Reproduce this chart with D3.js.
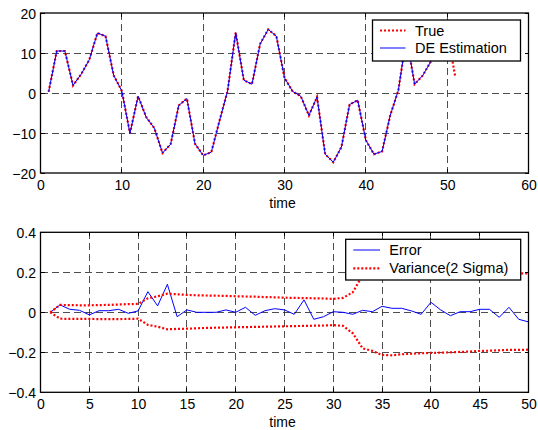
<!DOCTYPE html>
<html>
<head>
<meta charset="utf-8">
<script src="https://cdn.jsdelivr.net/npm/d3@7"></script>
<style>
  html, body { margin: 0; padding: 0; background: #fff; }
  svg { display: block; }
  text { font-family: "Liberation Sans", Arial, sans-serif; fill: #000; }
</style>
</head>
<body>
<svg id="chart" width="538" height="430"></svg>
<script>
// ---------- data ----------
const trueVals = [0.3, 10.5, 10.5, 1.9, 4.7, 8.3, 15, 14.2, 4.4, 0.5,
  -10, -0.8, -6, -8.8, -15, -12.8, -3.1, -1.4, -12.7, -15.6,
  -14.8, -7, 0.5, 15.1, 3.2, 2.2, 12.3, 15.9, 14.2, 3.8,
  0.4, -0.8, -5.6, -1, -15.3, -17.3, -13.5, -2.9, -1.8, -11.8,
  -15.3, -14.6, -5.6, 0.7, 14, 2.2, 4.4, 7.9, 13, 15.5, 4];
const deVals = [0.3, 10.5, 10.5, 1.9, 4.7, 8.3, 15, 14.2, 4.4, 0.5,
  -10.1, -0.8, -6.1, -8.8, -15, -12.8, -3.1, -1.4, -12.7, -15.6,
  -14.8, -7, 0.5, 15.1, 3.2, 2.2, 12.2, 15.9, 14.2, 3.8,
  0.4, -0.8, -5.6, -1, -15.3, -17.3, -13.5, -2.9, -1.8, -11.8,
  -15.3, -14.6, -5.6, 0.7, 14, 2.2, 4.4, 7.9, 13, 15.5];
const errorVals = [0, 0.037, 0.015, 0.01, -0.013, 0.008, 0.008, 0.015, -0.005, 0.007,
  0.103, 0.032, 0.14, -0.022, 0.012, 0, 0, 0, 0.012, 0,
  0.025, -0.015, 0.008, 0.018, 0.012, -0.01, 0.062, -0.035, -0.022, 0.003,
  0, -0.01, 0.01, 0.003, 0.03, 0.02, 0.02, 0.007, -0.01, 0.05,
  0.012, -0.017, 0.003, 0.003, 0.015, 0.015, -0.025, 0.025, -0.035, -0.048];
const varUpper = [0, 0.037, 0.036, 0.035, 0.035, 0.036, 0.037, 0.039, 0.041, 0.042,
  0.07, 0.08, 0.093, 0.09, 0.087, 0.085, 0.084, 0.083, 0.082, 0.08,
  0.079, 0.078, 0.076, 0.075, 0.073, 0.072, 0.071, 0.07, 0.069, 0.067,
  0.072, 0.1, 0.185, 0.2, 0.215, 0.217, 0.213, 0.21, 0.208, 0.206,
  0.205, 0.203, 0.201, 0.2, 0.198, 0.197, 0.196, 0.195, 0.195, 0.195];
const varLower = [0, -0.032, -0.033, -0.033, -0.033, -0.034, -0.034, -0.034, -0.033, -0.032,
  -0.063, -0.072, -0.085, -0.083, -0.082, -0.08, -0.078, -0.077, -0.076, -0.075,
  -0.074, -0.073, -0.072, -0.071, -0.07, -0.069, -0.068, -0.067, -0.066, -0.064,
  -0.068, -0.105, -0.18, -0.193, -0.213, -0.215, -0.21, -0.207, -0.205, -0.203,
  -0.202, -0.2, -0.198, -0.196, -0.193, -0.192, -0.19, -0.188, -0.188, -0.187];

const topXTicks = [0, 10, 20, 30, 40, 50, 60];
const topYTicks = [-20, -10, 0, 10, 20];
const botXTicks = [0, 5, 10, 15, 20, 25, 30, 35, 40, 45, 50];
const botYTicks = [-0.4, -0.2, 0, 0.2, 0.4];
const topLegend = ["True", "DE Estimation"];
const botLegend = ["Error", "Variance(2 Sigma)"];
const xLabel = "time";

// ---------- drawing ----------
const svg = d3.select("#chart");
const FS = 14;

function panel(cfg) {
  const g = svg.append("g");
  const x = d3.scaleLinear().domain(cfg.xDomain).range([cfg.left, cfg.right]);
  const y = d3.scaleLinear().domain(cfg.yDomain).range([cfg.bottom, cfg.top]);

  // clip
  const clipId = "clip" + cfg.id;
  svg.append("clipPath").attr("id", clipId).append("rect")
    .attr("x", cfg.left).attr("y", cfg.top)
    .attr("width", cfg.right - cfg.left).attr("height", cfg.bottom - cfg.top);

  // grid
  const grid = g.append("g").attr("stroke", "#222").attr("stroke-width", 0.8)
    .attr("stroke-dasharray", "7,4").attr("shape-rendering", "crispEdges");
  cfg.xTicks.slice(1, -1).forEach(t => {
    grid.append("line").attr("x1", x(t)).attr("x2", x(t))
      .attr("y1", cfg.top).attr("y2", cfg.bottom);
  });
  cfg.yTicks.slice(1, -1).forEach(t => {
    grid.append("line").attr("y1", y(t)).attr("y2", y(t))
      .attr("x1", cfg.left).attr("x2", cfg.right);
  });

  // series
  const plot = g.append("g").attr("clip-path", `url(#${clipId})`);
  cfg.series.forEach(s => {
    const line = d3.line().x((d, i) => x(i + 1)).y(d => y(d));
    plot.append("path").datum(s.values)
      .attr("fill", "none")
      .attr("stroke", s.color)
      .attr("stroke-width", s.width)
      .attr("stroke-dasharray", s.dash || null)
      .attr("d", line);
  });

  // axes (D3 axes for ticks and labels)
  const xAxis = d3.axisBottom(x).tickValues(cfg.xTicks).tickSize(0).tickPadding(7)
    .tickFormat(d3.format(cfg.xFmt));
  const gx = g.append("g").attr("transform", `translate(0,${cfg.bottom})`).call(xAxis);
  gx.select(".domain").remove();
  gx.selectAll("text").attr("font-size", FS).attr("font-family", '"Liberation Sans", Arial, sans-serif').attr("fill", "#000");

  const yAxis = d3.axisLeft(y).tickValues(cfg.yTicks).tickSize(0).tickPadding(4.5)
    .tickFormat(d3.format(cfg.yFmt));
  const gy = g.append("g").attr("transform", `translate(${cfg.left},0)`).call(yAxis);
  gy.select(".domain").remove();
  gy.selectAll("text").attr("font-size", FS).attr("font-family", '"Liberation Sans", Arial, sans-serif').attr("fill", "#000")
    .attr("dy", "0.36em");

  // inward tick marks
  const tk = g.append("g").attr("stroke", "#000").attr("stroke-width", 1).attr("shape-rendering", "crispEdges");
  const L = 4;
  cfg.xTicks.forEach(t => {
    tk.append("line").attr("x1", x(t)).attr("x2", x(t)).attr("y1", cfg.bottom).attr("y2", cfg.bottom - L);
    tk.append("line").attr("x1", x(t)).attr("x2", x(t)).attr("y1", cfg.top).attr("y2", cfg.top + L);
  });
  cfg.yTicks.forEach(t => {
    tk.append("line").attr("y1", y(t)).attr("y2", y(t)).attr("x1", cfg.left).attr("x2", cfg.left + L);
    tk.append("line").attr("y1", y(t)).attr("y2", y(t)).attr("x1", cfg.right).attr("x2", cfg.right - L);
  });

  // box
  g.append("rect").attr("x", cfg.left).attr("y", cfg.top)
    .attr("width", cfg.right - cfg.left).attr("height", cfg.bottom - cfg.top)
    .attr("fill", "none").attr("stroke", "#000").attr("stroke-width", 1.3);

  // x label
  g.append("text").attr("x", (cfg.left + cfg.right) / 2 - 2).attr("y", cfg.bottom + cfg.xLabelOff)
    .attr("text-anchor", "middle").attr("font-size", FS).text(xLabel);

  // legend
  const lg = cfg.legend;
  const leg = g.append("g");
  leg.append("rect").attr("x", lg.x).attr("y", lg.y).attr("width", lg.w).attr("height", lg.h)
    .attr("fill", "#fff").attr("stroke", "#000").attr("stroke-width", 1.3);
  lg.items.forEach((it, i) => {
    const cy = lg.y + lg.rows[i];
    leg.append("line").attr("x1", lg.x + lg.s0).attr("x2", lg.x + lg.s1)
      .attr("y1", cy).attr("y2", cy)
      .attr("stroke", it.color).attr("stroke-width", it.width)
      .attr("stroke-dasharray", it.dash || null);
    leg.append("text").attr("x", lg.x + lg.tx).attr("y", cy).attr("dy", "0.35em")
      .attr("font-size", 14.5).text(it.label);
  });
}

const RED = "#ff0000", BLUE = "#0000ff";

panel({
  id: "top", left: 40.5, right: 528.5, top: 13, bottom: 173,
  xDomain: [0, 60], yDomain: [-20, 20],
  xTicks: topXTicks, yTicks: topYTicks, xFmt: "d", yFmt: "d",
  xLabelOff: 35,
  series: [
    { values: trueVals, color: RED, width: 2.2, dash: "2,2" },
    { values: deVals, color: BLUE, width: 1 }
  ],
  legend: {
    x: 372.5, y: 20, w: 148, h: 41, rows: [10.5, 28], s0: 7.5, s1: 33, tx: 42.5,
    items: [
      { label: topLegend[0], color: RED, width: 2.2, dash: "2,2" },
      { label: topLegend[1], color: BLUE, width: 1 }
    ]
  }
});

panel({
  id: "bot", left: 40.5, right: 528.5, top: 232.3, bottom: 392.3,
  xDomain: [0, 50], yDomain: [-0.4, 0.4],
  xTicks: botXTicks, yTicks: botYTicks, xFmt: "d", yFmt: "",
  xLabelOff: 35,
  series: [
    { values: errorVals, color: BLUE, width: 1 },
    { values: varUpper, color: RED, width: 2.2, dash: "2,2" },
    { values: varLower, color: RED, width: 2.2, dash: "2,2" }
  ],
  legend: {
    x: 345.7, y: 239.3, w: 175, h: 40.7, rows: [10.7, 29], s0: 7.6, s1: 34.3, tx: 43.6,
    items: [
      { label: botLegend[0], color: BLUE, width: 1 },
      { label: botLegend[1], color: RED, width: 2.2, dash: "2,2" }
    ]
  }
});
</script>
</body>
</html>
